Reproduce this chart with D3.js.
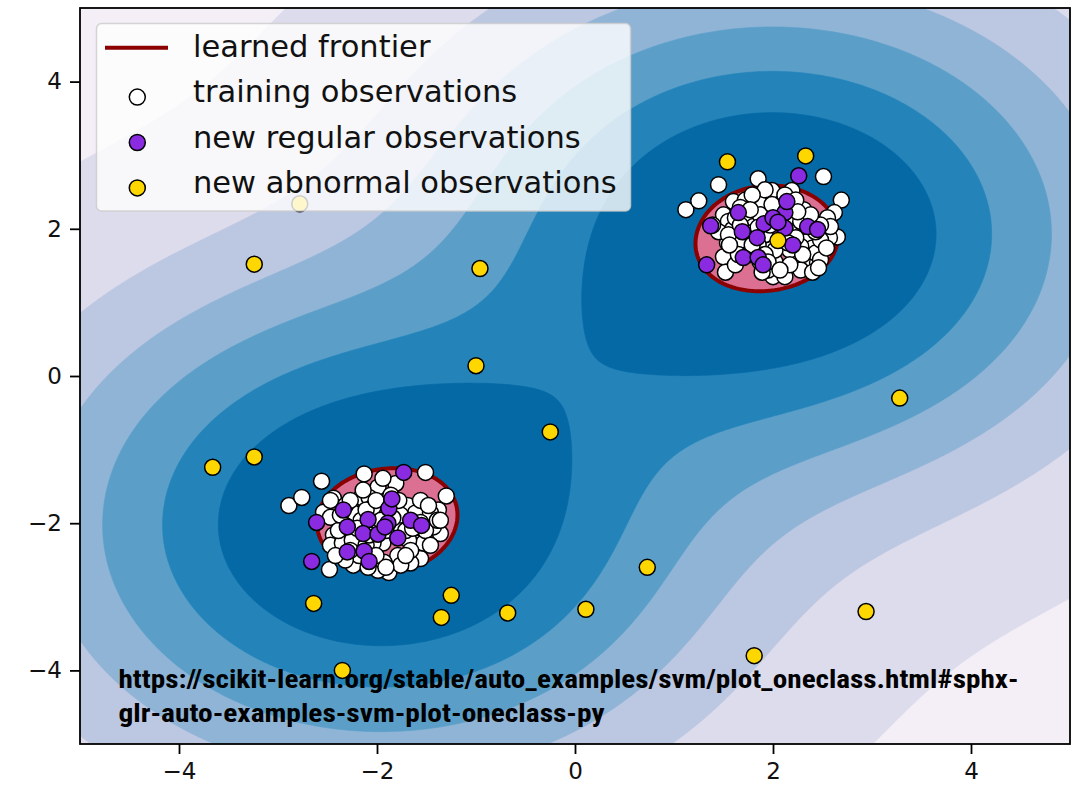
<!DOCTYPE html>
<html>
<head>
<meta charset="utf-8">
<script src="https://cdn.jsdelivr.net/npm/d3@7"></script>
<style>
  body { margin: 0; background: #fff; }
  svg { display: block; }
</style>
</head>
<body>
<svg id="chart" width="1082" height="786"></svg>
<script>
// ---- data -----------------------------------------------------------------
// training observations, cluster around (2, 2)
const trainUpper = [
  [1.12,2.26],[1.25,2.38],[1.45,2.60],[1.85,2.68],[2.51,2.71],[2.69,2.39],[2.62,2.22],[2.65,1.89],
  [2.57,1.88],[1.99,2.52],[2.19,2.52],[1.60,2.37],[1.72,2.39],[1.87,2.34],[1.50,2.19],[1.55,2.10],
  [1.54,1.81],[1.59,1.71],[1.67,1.74],[1.50,1.62],[1.52,1.41],[2.00,1.35],[2.12,1.35],[1.95,1.44],
  [2.23,1.58],[2.35,1.48],[2.45,1.54],[2.36,1.99],[2.31,2.26],[2.55,2.15],[2.58,2.03],[2.35,1.85],
  [2.40,1.74],[1.74,2.12],[1.80,2.03],[2.28,1.44],[2.43,1.67],[2.07,2.33],[1.92,2.53],[1.79,2.46],
  [1.67,2.29],[1.45,1.96],[1.62,1.51],[1.87,1.55],[2.17,1.71],[2.28,1.76],[2.48,1.85],[2.02,1.55],
  [1.97,1.78],[1.69,1.85],[1.39,2.05],[2.12,2.46],[2.23,2.39],[2.48,2.05],[1.77,1.65],[2.07,1.85],
  [1.92,1.92],[2.17,2.05],[1.85,1.78],[2.03,2.12],[1.59,1.99],[2.40,1.41],[2.48,1.58],[2.54,1.74],
  [2.25,1.99],[1.87,2.19],[1.97,2.05],[2.12,1.99],[1.80,1.88],[2.02,1.71],[2.23,1.88],[1.72,1.96],
  [1.92,1.65],[2.28,2.10],[1.62,2.15],[2.09,2.19],[2.38,2.19],[1.77,2.26],[1.65,1.65],[2.17,1.51],
  [1.89,1.41],[2.43,1.96],[1.55,1.92],[1.99,2.33],[2.30,1.65],[1.67,2.05],[1.85,2.02],[2.15,1.81],
  [1.95,1.55],[1.79,1.78],[2.25,2.23],[1.56,1.78],[2.46,1.47],[2.07,1.44]
];
// training observations, cluster around (-2, -2)
const trainLower = [
  [-2.89,-1.76],[-2.76,-1.65],[-2.56,-1.43],[-2.13,-1.33],[-1.51,-1.31],[-1.30,-1.63],[-1.38,-1.82],
  [-1.36,-2.14],[-2.48,-2.63],[-1.88,-2.67],[-1.99,-2.64],[-1.56,-2.48],[-1.66,-2.54],[-1.79,-2.44],
  [-1.99,-1.51],[-1.81,-1.46],[-2.16,-1.65],[-2.08,-1.65],[-2.44,-1.66],[-2.54,-1.85],[-2.47,-1.92],
  [-2.24,-1.86],[-1.69,-1.76],[-1.61,-1.86],[-1.46,-1.86],[-1.43,-2.05],[-2.44,-2.16],[-2.47,-2.30],
  [-2.35,-2.27],[-1.94,-2.27],[-1.61,-2.27],[-1.53,-2.27],[-1.68,-2.23],[-2.04,-2.27],[-2.24,-2.57],
  [-2.09,-2.60],[-1.93,-2.53],[-1.94,-1.82],[-2.04,-1.78],[-1.56,-1.69],[-2.32,-1.76],[-2.16,-1.96],
  [-2.04,-2.03],[-1.81,-2.07],[-1.71,-2.10],[-2.25,-2.23],[-2.11,-2.30],[-1.91,-2.10],[-1.76,-1.89],
  [-2.32,-2.03],[-1.96,-1.96],[-1.66,-2.37],[-2.18,-2.44],[-2.01,-2.44],[-1.51,-2.10],[-2.39,-2.10],
  [-2.27,-1.69],[-1.86,-1.62],[-1.46,-2.30],[-1.76,-2.57],[-2.32,-2.50],[-1.39,-1.96],[-1.64,-2.07],
  [-2.11,-1.82],[-1.88,-1.76],[-1.78,-1.69],[-2.20,-2.07],[-2.08,-2.16],[-1.56,-1.99],[-2.37,-1.89],
  [-2.47,-1.69],[-1.71,-2.44],[-2.14,-1.55],[-1.94,-1.39],[-2.27,-2.37],[-1.48,-1.76],[-1.91,-2.60],
  [-2.42,-2.44],[-1.36,-1.96],[-2.01,-1.69],[-1.84,-1.93]
];
// new regular observations
const regularUpper = [
  [2.26,2.72],[1.37,2.04],[1.65,2.22],[1.91,2.07],[2.12,2.22],[2.14,2.37],[2.35,2.03],[2.45,1.99],
  [1.69,1.96],[1.84,1.88],[2.12,2.01],[2.20,1.78],[1.70,1.61],[1.85,1.61],[1.90,1.51],[1.33,1.51],
  [2.00,2.15],[2.05,2.09]
];
const regularLower = [
  [-1.73,-1.31],[-2.61,-1.99],[-2.34,-1.82],[-2.09,-1.95],[-1.88,-1.80],[-1.85,-1.67],[-1.89,-2.00],
  [-1.66,-1.96],[-1.55,-2.03],[-2.30,-2.05],[-2.14,-2.14],[-1.99,-2.15],[-1.79,-2.20],[-2.30,-2.39],
  [-2.13,-2.38],[-2.08,-2.52],[-2.66,-2.52],[-1.92,-2.05]
];
// new abnormal observations
const abnormal = [
  [-2.78,2.34],[-3.24,1.52],[-0.96,1.46],[-1.00,0.14],[-0.25,-0.76],[-3.66,-1.24],[-3.24,-1.10],
  [-2.64,-3.09],[-1.25,-2.98],[-1.35,-3.28],[-0.68,-3.22],[0.11,-3.17],[0.73,-2.60],[-2.35,-4.00],
  [1.81,-3.80],[2.94,-3.20],[3.28,-0.30],[1.54,2.91],[2.33,2.99],[2.05,1.84]
];

const xTicks = [-4, -2, 0, 2, 4];
const yTicks = [-4, -2, 0, 2, 4];
const legendLabels = ["learned frontier", "training observations",
                      "new regular observations", "new abnormal observations"];
const sourceLines = [
  "https://scikit-learn.org/stable/auto_examples/svm/plot_oneclass.html#sphx-",
  "glr-auto-examples-svm-plot-oneclass-py"
];

// decision function settings: RBF kernel width, filled levels, frontier level
const GAMMA = 0.14;
const bandLevels = [0.0115, 0.092, 0.20, 0.334, 0.503, 0.674];
const bandColors = ["#f4eef6", "#dddcec", "#bcc7e1", "#90b4d6", "#5b9fc9", "#2484ba", "#0569a5"];
const RHO = 0.92;

// ---- layout ---------------------------------------------------------------
const plot = { left: 80, right: 1070, top: 8, bottom: 744 };
const FONT = "'DejaVu Sans', sans-serif";

const svg = d3.select("#chart");
const x = d3.scaleLinear().domain([-5, 5]).range([plot.left, plot.right]);
const y = d3.scaleLinear().domain([-5, 5]).range([plot.bottom, plot.top]);

svg.append("defs").append("clipPath").attr("id", "plot-clip")
  .append("rect")
  .attr("x", plot.left).attr("y", plot.top)
  .attr("width", plot.right - plot.left).attr("height", plot.bottom - plot.top);

const area = svg.append("g").attr("clip-path", "url(#plot-clip)");

// ---- decision function on a grid -----------------------------------------
const NX = 330, NY = 245;
const gx = d3.scaleLinear().domain([0, NX]).range(x.domain());
const gy = d3.scaleLinear().domain([0, NY]).range([y.domain()[1], y.domain()[0]]);
const clusters = [trainUpper, trainLower];
const field = new Float64Array(NX * NY);
for (let j = 0; j < NY; j++) {
  const py = gy(j + 0.5);
  for (let i = 0; i < NX; i++) {
    const px = gx(i + 0.5);
    let s = 0;
    for (const c of clusters) {
      const w = 1 / c.length;
      for (const p of c) {
        const dx = px - p[0], dy = py - p[1];
        s += w * Math.exp(-GAMMA * (dx * dx + dy * dy));
      }
    }
    field[i + j * NX] = s;
  }
}

const toScreen = d3.geoTransform({
  point(px, py) { this.stream.point(x(gx(px)), y(gy(py))); }
});
const path = d3.geoPath(toScreen);

area.append("rect")
  .attr("x", plot.left).attr("y", plot.top)
  .attr("width", plot.right - plot.left).attr("height", plot.bottom - plot.top)
  .attr("fill", bandColors[0]);

const bands = d3.contours().size([NX, NY]).thresholds(bandLevels)(field);
area.selectAll("path.band").data(bands).join("path")
  .attr("class", "band")
  .attr("d", path)
  .attr("fill", (d, i) => bandColors[i + 1])
  .attr("stroke", (d, i) => bandColors[i + 1])
  .attr("stroke-width", 0.6);

const frontier = d3.contours().size([NX, NY]).thresholds([RHO])(field)[0];
area.append("path").attr("d", path(frontier)).attr("fill", "#db7093");
area.append("path").attr("d", path(frontier))
  .attr("fill", "none").attr("stroke", "#8b0000").attr("stroke-width", 4);

// ---- observations ---------------------------------------------------------
const R = 8;
function dots(data, fill) {
  area.append("g").selectAll("circle").data(data).join("circle")
    .attr("cx", d => x(d[0])).attr("cy", d => y(d[1]))
    .attr("r", R).attr("fill", fill)
    .attr("stroke", "#000").attr("stroke-width", 1.5);
}
dots(trainUpper.concat(trainLower), "#ffffff");
dots(regularUpper.concat(regularLower), "#8a2be2");
dots(abnormal, "#ffd700");

// ---- legend -----------------------------------------------------------------
const lg = svg.append("g");
lg.append("rect")
  .attr("x", 96.5).attr("y", 23.5).attr("width", 534).attr("height", 187.5)
  .attr("rx", 5).attr("fill", "#ffffff").attr("fill-opacity", 0.8)
  .attr("stroke", "#cccccc").attr("stroke-opacity", 0.8).attr("stroke-width", 1.5);
const rowBase = i => 56.7 + i * 45.4;
lg.append("line")
  .attr("x1", 105).attr("x2", 168).attr("y1", rowBase(0) - 9).attr("y2", rowBase(0) - 9)
  .attr("stroke", "#8b0000").attr("stroke-width", 4);
[["#ffffff", 1], ["#8a2be2", 2], ["#ffd700", 3]].forEach(([c, i]) => {
  lg.append("circle").attr("cx", 137.3).attr("cy", rowBase(i) - 5)
    .attr("r", R).attr("fill", c).attr("stroke", "#000").attr("stroke-width", 1.5);
});
lg.selectAll("text").data(legendLabels).join("text")
  .attr("x", 193).attr("y", (d, i) => rowBase(i))
  .attr("font-family", FONT).attr("font-size", 30.5).attr("fill", "#111")
  .text(d => d);

// ---- source note ----------------------------------------------------------
const note = svg.append("g")
  .attr("font-family", "'Liberation Sans Narrow', 'Roboto Condensed', 'Arial Narrow', 'Liberation Sans', sans-serif")
  .attr("font-weight", "bold").attr("font-size", 26).attr("fill", "#000");
note.append("text").attr("x", 118.5).attr("y", 688)
  .attr("textLength", 900).attr("lengthAdjust", "spacingAndGlyphs").text(sourceLines[0]);
note.append("text").attr("x", 118.5).attr("y", 722)
  .attr("textLength", 486).attr("lengthAdjust", "spacingAndGlyphs").text(sourceLines[1]);

// ---- axes -------------------------------------------------------------------
svg.append("rect")
  .attr("x", plot.left).attr("y", plot.top)
  .attr("width", plot.right - plot.left).attr("height", plot.bottom - plot.top)
  .attr("fill", "none").attr("stroke", "#000").attr("stroke-width", 1.8);

const xAxis = svg.append("g").attr("transform", `translate(0,${plot.bottom})`)
  .call(d3.axisBottom(x).tickValues(xTicks).tickSize(10).tickPadding(9).tickSizeOuter(0));
const yAxis = svg.append("g").attr("transform", `translate(${plot.left},0)`)
  .call(d3.axisLeft(y).tickValues(yTicks).tickSize(10).tickPadding(8).tickSizeOuter(0));
[xAxis, yAxis].forEach(a => {
  a.select(".domain").remove();
  a.selectAll(".tick line").attr("stroke", "#000").attr("stroke-width", 1.8);
  a.selectAll(".tick text").attr("font-family", FONT).attr("font-size", 23).attr("fill", "#111");
});
</script>
</body>
</html>
